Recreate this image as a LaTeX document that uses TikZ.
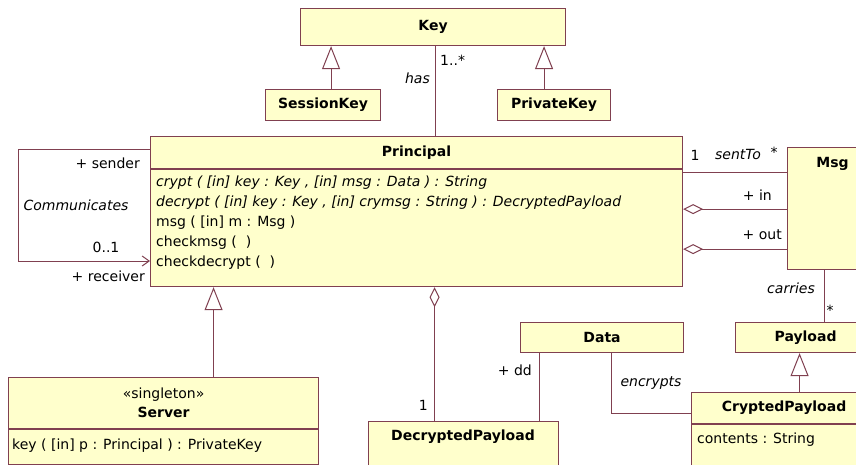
\documentclass[tikz,border=0pt]{standalone}
\usepackage{fontspec}
\setmainfont{DejaVu Sans}
\usetikzlibrary{arrows.meta,positioning}
\definecolor{umlfill}{RGB}{255,255,204}
\definecolor{umlline}{RGB}{128,64,80}

\begin{document}
\begin{tikzpicture}[x=1pt, y=-1pt, font=\fontsize{14}{16}\selectfont,
  box/.style={draw=umlline, fill=umlfill, line width=1.1pt, inner sep=0pt, anchor=north west},
  gen/.style={draw=umlline, line width=1pt, -{Triangle[open,length=23pt,width=18pt]}},
  assoc/.style={draw=umlline, line width=1pt},
  agg/.style={draw=umlline, line width=1pt, {Diamond[open,length=20pt,width=10pt]}-},
  lbl/.style={inner sep=1pt},
  role/.style={inner sep=1pt, font=\fontsize{14}{16}\selectfont\itshape}]
\clip (0,0) rectangle (856,464);
\fill[white] (0,0) rectangle (856,464);

% classes
\node[box, minimum width=265pt, minimum height=37pt] (key) at (300,8) {\bfseries Key};
\node[box, minimum width=115pt, minimum height=31pt] (sessionkey) at (265,89) {\bfseries SessionKey};
\node[box, minimum width=113pt, minimum height=31pt] (privatekey) at (497,89) {\bfseries PrivateKey};

\node[box, minimum width=532pt, minimum height=32pt] (principal) at (150,136) {\bfseries Principal};
\node[box, minimum width=532pt, minimum height=117pt] (principalops) at (principal.south west) {};
\node[anchor=north west, align=left, inner sep=0pt, font=\fontsize{14}{19.8}\selectfont] (principaltext) at (156,176)
  {\itshape crypt ( [in] key : Key , [in] msg : Data ) : String\\
   \itshape decrypt ( [in] key : Key , [in] crymsg : String ) : DecryptedPayload\\
   msg ( [in] m : Msg )\\
   checkmsg (\ \ )\\
   checkdecrypt (\ \ )};

\node[box, minimum width=90pt, minimum height=122pt] (msg) at (787,147) {};
\node[font=\fontsize{14}{16}\selectfont\bfseries, below=7pt of msg.north] (msgname) {Msg};

\node[box, minimum width=310pt, minimum height=51pt, align=center] (server) at (8,377) {\guillemotleft singleton\guillemotright\\[3pt] \bfseries Server};
\node[box, minimum width=310pt, minimum height=35pt] (serverops) at (server.south west) {};
\node[anchor=west, inner sep=0pt] (servertext) at (12,446) {key ( [in] p : Principal ) : PrivateKey};

\node[box, minimum width=190pt, minimum height=50pt] (decrypted) at (368,421) {};
\node[font=\fontsize{14}{16}\selectfont\bfseries] (decryptedname) at (463,437) {DecryptedPayload};

\node[box, minimum width=163pt, minimum height=30pt] (data) at (520,322) {\bfseries Data};
\node[box, minimum width=140pt, minimum height=30pt] (payload) at (735,322) {\bfseries Payload};

\node[box, minimum width=185pt, minimum height=31pt] (crypted) at (691,392) {\bfseries CryptedPayload};
\node[box, minimum width=185pt, minimum height=48pt] (cryptedops) at (crypted.south west) {};
\node[anchor=west, inner sep=0pt] (cryptedtext) at (697,440) {contents : String};

% generalizations
\draw[gen] ([xshift=8]sessionkey.north) -- ([xshift=8]sessionkey.north |- key.south);
\draw[gen] ([xshift=-10]privatekey.north) -- ([xshift=-10]privatekey.north |- key.south);
\draw[gen] ([xshift=50]server.north) -- ([xshift=50]server.north |- principalops.south);
\draw[gen] ([xshift=-6]payload.south |- crypted.north) -- ([xshift=-6]payload.south);

% associations
\draw[assoc] ([xshift=2]key.south) -- ([xshift=2]key.south |- principal.north);
\node[role, anchor=east] (haslbl) at (431,78) {has};
\node[lbl, anchor=west] (hasmult) at (439,60) {1..*};

\draw[assoc, -{Straight Barb[length=7pt,width=10pt]}] ([yshift=-13]principal.north west) -- ++(-132,0) |- ([yshift=-125]principal.north west);
\node[lbl, anchor=east] (senderlbl) at (141,163) {+ sender};
\node[role] (commlbl) at (76,205) {Communicates};
\node[lbl] (commmult) at (106,247) {0..1};
\node[lbl, anchor=east] (receiverlbl) at (146,276) {+ receiver};

\draw[assoc] ([yshift=-3]principalops.north east) -- ([yshift=-3]principalops.north east -| msg.west);
\node[lbl] (senttoone) at (695,155) {1};
\node[role] (senttolbl) at (738,154) {sentTo};
\node[lbl] (senttomany) at (774,152) {*};

\draw[agg] ([yshift=-40]principalops.north east) -- ([yshift=-40]principalops.north east -| msg.west);
\node[lbl, anchor=east] (inlbl) at (773,195) {+ in};
\draw[agg] ([yshift=-80]principalops.north east) -- ([yshift=-80]principalops.north east -| msg.west);
\node[lbl, anchor=east] (outlbl) at (783,235) {+ out};

\draw[assoc] ([xshift=-8]msg.south) -- ([xshift=-8]msg.south |- payload.north);
\node[role, anchor=east] (carrieslbl) at (816,288) {carries};
\node[lbl] (carriesmult) at (830,310) {*};

\draw[agg] ([xshift=18]principalops.south) -- ([xshift=18]principalops.south |- decrypted.north);
\node[lbl, anchor=east] (decone) at (429,405) {1};

\draw[assoc] ([xshift=-63]data.south) -- ([xshift=-63]data.south |- decrypted.north);
\node[lbl, anchor=east] (ddlbl) at (533,370) {+ dd};

\draw[assoc] ([xshift=9]data.south) |- ([yshift=-5]crypted.west);
\node[role] (encryptslbl) at (651,383) {encrypts};

\end{tikzpicture}
\end{document}
